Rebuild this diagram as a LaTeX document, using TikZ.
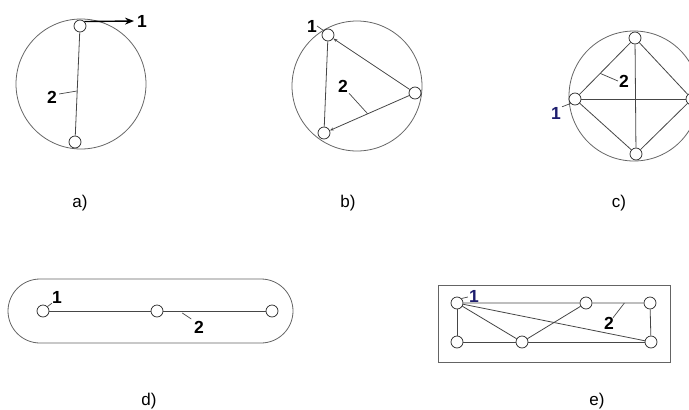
\documentclass[tikz,border=0pt]{standalone}
\usepackage{fontspec}
\setmainfont{Liberation Sans}
\usepackage{xcolor}
\usepackage{tikz}
\usetikzlibrary{arrows.meta,positioning,calc}

\definecolor{edgegray}{RGB}{70,70,70}
\definecolor{rimgray}{RGB}{100,100,100}
\definecolor{labelblue}{RGB}{30,30,110}

\begin{document}
\begin{tikzpicture}[
  x=1pt, y=-1pt,
  font=\fontsize{17}{19}\selectfont,
  hole/.style={circle, draw=black!85, fill=white, minimum size=12pt, inner sep=0pt, line width=0.7pt},
  rim/.style={draw=rimgray, line width=0.8pt},
  link/.style={draw=edgegray, line width=0.8pt},
  lead/.style={draw=edgegray, line width=0.7pt},
  num/.style={font=\fontsize{17.5}{19}\selectfont\bfseries, inner sep=0pt},
  sublabel/.style={inner sep=0pt},
]
\useasboundingbox (0,0) rectangle (689,410);
% a) dos puntos
\draw[rim] (81,84) circle[radius=65];
\node[hole] (a1) at (80,26) {};
\node[hole] (a2) at (75,142) {};
\draw[link] (a1) -- (a2);
\coordinate (a1tip) at (134,21);
\draw[line width=1.4pt, -{Stealth[length=9pt,width=7pt]}] (a1.north east) -- (a1tip);
\node[num, right=3pt of a1tip] (a1lab) {1};
\node[num] (a2lab) at (52,97) {2};
\coordinate (a2end) at ($(a1)!0.56!(a2)$);
\draw[lead] (a2lab.east) ++(2,-3) -- (a2end);
\node[sublabel] (capa) at (80,203) {a)};
% b) triangulo
\draw[rim] (357,86) circle[radius=65];
\node[hole] (b1) at (328,35) {};
\node[hole] (b2) at (415,93) {};
\node[hole] (b3) at (324,133) {};
\draw[link] (b3) -- (b1);
\draw[link, -{Stealth[length=4pt,width=3pt]}] (b2) -- (b1);
\draw[link, -{Stealth[length=4pt,width=3pt]}] (b2) -- (b3);
\node[num] (b1lab) at (312,26) {1};
\draw[lead] (b1lab.east) -- (b1.north west);
\node[num] (b2lab) at (343,86) {2};
\coordinate (b2end) at ($(b2)!0.52!(b3)$);
\draw[lead] (b2lab.south east) ++(1,1) -- (b2end);
\node[sublabel] (capb) at (348,203) {b)};
% c) cuadrado
\draw[rim] (634,96) circle[radius=65];
\node[hole] (c1) at (575,99) {};
\node[hole] (c2) at (635,38) {};
\node[hole] (c3) at (692,99) {};
\node[hole] (c4) at (636,154) {};
\draw[link] (c1) -- (c2) -- (c3) -- (c4) -- (c1);
\draw[link] (c1) -- (c3);
\draw[link] (c2) -- (c4);
\node[num, text=labelblue] (c1lab) at (556,113) {1};
\draw[lead] (c1lab.north east) ++(1,0) -- (c1.south west);
\node[num] (c2lab) at (624,81) {2};
\coordinate (c2end) at ($(c1)!0.42!(c2)$);
\draw[lead] (c2lab.west) ++(-1,0) -- (c2end);
\node[sublabel] (capc) at (619,203) {c)};
% d) linea
\draw[rim, rounded corners=32pt] (8,279) rectangle (293,343);
\node[hole] (d1) at (43,311) {};
\node[hole] (d2) at (157,311) {};
\node[hole] (d3) at (272,311) {};
\draw[link] (d1) -- (d2) -- (d3);
\node[num] (d1lab) at (57,297) {1};
\draw[lead] (d1lab.south west) -- (d1.north east);
\node[num] (d2lab) at (199,327) {2};
\coordinate (d2end) at ($(d2)!0.22!(d3)$);
\draw[lead] (d2end) ++(0,2) -- ++(9,6);
\node[sublabel] (capd) at (149,401) {d)};
% e) rejilla
\draw[rim] (438,285) rectangle (670,362);
\node[hole] (e1) at (457,303) {};
\node[hole] (e2) at (586,303) {};
\node[hole] (e3) at (650,303) {};
\node[hole] (e4) at (457,342) {};
\node[hole] (e5) at (522,342) {};
\node[hole] (e6) at (651,342) {};
\draw[link] (e1) -- (e2) -- (e3) -- (e6);
\draw[link] (e1) -- (e4) -- (e5) -- (e6);
\draw[link] (e1) -- (e5) -- (e2);
\draw[link] (e1) -- (e6);
\node[num, text=labelblue] (e1lab) at (474,296) {1};
\draw[lead] (e1lab.west) ++(-1,1) -- (e1.north east);
\node[num] (e3lab) at (609,323) {2};
\coordinate (e3end) at ($(e2)!0.6!(e3)$);
\draw[lead] (e3lab.north east) ++(-1,1) -- (e3end);
\node[sublabel] (cape) at (597,401) {e)};
\end{tikzpicture}
\end{document}
